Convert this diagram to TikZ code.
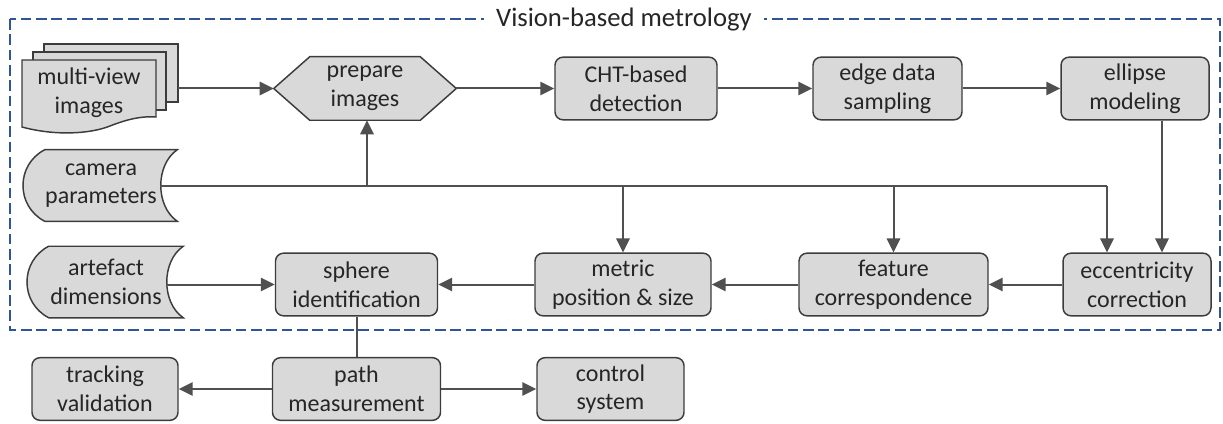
\documentclass[tikz,border=0pt]{standalone}
\usepackage{fontspec}
\setmainfont{Carlito}
\usetikzlibrary{arrows.meta,calc}
\definecolor{boxfill}{RGB}{217,217,217}
\definecolor{boxline}{RGB}{60,60,60}
\definecolor{arr}{RGB}{80,80,80}
\definecolor{frameblue}{RGB}{47,85,151}
\begin{document}
\begin{tikzpicture}[x=0.75pt,y=-0.75pt,
  every node/.style={font=\fontsize{18}{21.5}\selectfont, align=center, inner sep=0pt, text=black!85},
  box/.style={draw=boxline, fill=boxfill, line width=1.1pt, rounded corners=6pt, minimum height=47pt},
  shp/.style={draw=boxline, fill=boxfill, line width=1.1pt},
  conn/.style={draw=arr, line width=1.5pt},
  arrow/.style={conn, -{Triangle[length=10.5pt,width=10pt]}},
  frm/.style={draw=frameblue, line width=1.3pt, dash pattern=on 8pt off 3.5pt},
]
\useasboundingbox (0,0) rectangle (1223,424);

% frame
\draw[frm] (10,19) rectangle (1220,330);
\node[fill=white, inner xsep=9pt, inner ysep=2pt, font=\fontsize{20}{24}\selectfont] (title) at (624,20) {Vision-based metrology};

% multi-view images (stacked documents)
\draw[shp] (44,44) rectangle (178,102);
\draw[shp] (33,52) rectangle (166,110);
\draw[shp] (22,60) -- (156,60) -- (156,117) .. controls (145,116) and (130,118) .. (110,126)
  .. controls (90,134) and (55,136) .. (22,127) -- cycle;
\node (mvi) at (89,93) {multi-view\\images};
\coordinate (mviout) at (178,88.5);

% prepare images (hexagon)
\node[minimum width=136.5pt, minimum height=47.25pt] (prep) at (365,88.5) {};
\draw[shp] (prep.west) -- ($(prep.north west)+(36,0)$) -- ($(prep.north east)+(-36,0)$)
  -- (prep.east) -- ($(prep.south east)+(-36,0)$) -- ($(prep.south west)+(36,0)$) -- cycle;
\node at (prep.center) {prepare\\images};

% top row
\node[box, minimum width=121.5pt] (cht) at (636,88.5) {CHT-based\\detection};
\node[box, minimum width=111.75pt] (edge) at (887.5,88.5) {edge data\\sampling};
\node[box, minimum width=111pt] (ell) at (1135,88.5) {ellipse\\modeling};

% camera parameters (stored data)
\node[minimum width=115.5pt, minimum height=53.25pt] (cam) at (100,185.5) {};
\draw[shp] ($(cam.north west)+(22,0)$) -- (cam.north east)
  .. controls ($(cam.north east)+(-22,15)$) and ($(cam.south east)+(-22,-15)$) .. (cam.south east)
  -- ($(cam.south west)+(22,0)$)
  .. controls ($(cam.south west)+(-7,-15)$) and ($(cam.north west)+(-7,15)$) .. ($(cam.north west)+(22,0)$) -- cycle;
\node at (101,185.5) {camera\\parameters};
\coordinate (camout) at (160,186);

% artefact dimensions (stored data)
\node[minimum width=117pt, minimum height=53.25pt] (art) at (105,282) {};
\draw[shp] ($(art.north west)+(22,0)$) -- (art.north east)
  .. controls ($(art.north east)+(-22,15)$) and ($(art.south east)+(-22,-15)$) .. (art.south east)
  -- ($(art.south west)+(22,0)$)
  .. controls ($(art.south west)+(-7,-15)$) and ($(art.north west)+(-7,15)$) .. ($(art.north west)+(22,0)$) -- cycle;
\node at (106,282) {artefact\\dimensions};
\coordinate (artout) at (166,284.5);

% second row
\node[box, minimum width=121.5pt] (sph) at (356.5,284.5) {sphere\\identification};
\node[box, minimum width=132pt] (met) at (623,284.5) {metric\\position \& size};
\node[box, minimum width=141.75pt] (feat) at (893.5,284.5) {feature\\correspondence};
\node[box, minimum width=111pt] (ecc) at (1137,284.5) {eccentricity\\correction};

% bottom row
\node[box, minimum width=109.5pt] (trk) at (105,389) {tracking\\validation};
\node[box, minimum width=126pt] (path) at (356.5,389) {path\\measurement};
\node[box, minimum width=110.25pt] (ctl) at (610.5,389) {control\\system};

% connectors top row
\draw[arrow] (mviout) -- (prep.west);
\draw[arrow] (prep.east) -- (cht.west);
\draw[arrow] (cht.east) -- (edge.west);
\draw[arrow] (edge.east) -- (ell.west);

% camera bus
\coordinate (busend) at (1107,186);
\draw[conn] (camout) -- (busend);
\draw[arrow] (busend) -- (busend |- ecc.north);
\draw[arrow] (camout -| 367,0) -- (367,0 |- prep.south);
\draw[arrow] (camout -| met.north) -- (met.north);
\draw[arrow] (camout -| feat.north) -- (feat.north);
\coordinate (elldrop) at ($(ell.south)+(27,0)$);
\draw[arrow] (elldrop) -- (elldrop |- ecc.north);

% second row arrows
\draw[arrow] (ecc.west) -- (feat.east);
\draw[arrow] (feat.west) -- (met.east);
\draw[arrow] (met.west) -- (sph.east);
\draw[arrow] (artout) -- (sph.west);
\draw[conn] (sph.south) -- (path.north);

% bottom row arrows
\draw[arrow] (path.west) -- (trk.east);
\draw[arrow] (path.east) -- (ctl.west);
\end{tikzpicture}
\end{document}
